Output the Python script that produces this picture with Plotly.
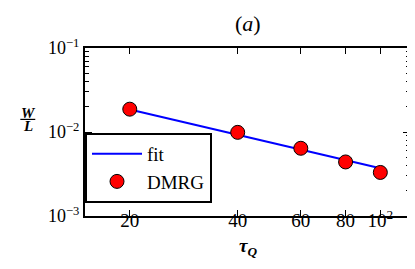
import plotly.graph_objects as go
import numpy as np

tau_q = [20, 40, 60, 80, 100]
w_over_l = [0.0187, 0.0099, 0.0064, 0.0044, 0.0033]
fit_tau = [20, 100]
fit_vals = [0.0185, 0.0037]

x_tickvals = [20, 40, 60, 80, 100]
x_ticktext = ["20", "40", "60", "80", "10<sup>2</sup>"]
y_tickvals = [1e-3, 1e-2, 1e-1]
y_ticktext = ["10<sup>−3</sup>", "10<sup>−2</sup>", "10<sup>−1</sup>"]
y_minor = [m * 10.0 ** e for e in (-3, -2) for m in range(2, 10)]

serif = "Liberation Serif, DejaVu Serif, serif"

fig = go.Figure()
fig.add_trace(go.Scatter(x=fit_tau, y=fit_vals, mode="lines", name="fit",
                         line=dict(color="#0000ff", width=2)))
fig.add_trace(go.Scatter(x=tau_q, y=w_over_l, mode="markers", name="DMRG",
                         marker=dict(color="#ff0000", size=14,
                                     line=dict(color="black", width=1))))
# invisible helpers so the minor-tick axes get drawn
for ax in ("y2", "y3"):
    fig.add_trace(go.Scatter(x=[tau_q[0]], y=[w_over_l[0]], yaxis=ax,
                             mode="markers", marker=dict(opacity=0),
                             showlegend=False, hoverinfo="skip"))

minor_common = dict(type="log", range=[-3, -1], overlaying="y",
                    tickvals=y_minor, ticktext=[""] * len(y_minor),
                    ticks="inside", ticklen=4, tickwidth=1, tickcolor="black",
                    showline=False, showgrid=False, zeroline=False)

fig.update_layout(
    width=415, height=269,
    margin=dict(l=77, r=11, t=40, b=61),
    paper_bgcolor="white", plot_bgcolor="white",
    font=dict(family=serif, size=18, color="black"),
    showlegend=True,
    legend=dict(x=0.0, y=0.495, xanchor="left", yanchor="top",
                bordercolor="black", borderwidth=2, bgcolor="white",
                font=dict(family=serif, size=19), itemwidth=50),
    xaxis=dict(type="log", range=[np.log10(15), np.log10(121)],
               tickvals=x_tickvals, ticktext=x_ticktext,
               ticks="inside", ticklen=6, tickwidth=1, tickcolor="black",
               showline=True, linecolor="black", linewidth=2, mirror="ticks",
               showgrid=False, zeroline=False, ticklabelstandoff=-14,
               tickfont=dict(family=serif, size=19)),
    yaxis=dict(type="log", range=[-3, -1],
               tickvals=y_tickvals, ticktext=y_ticktext,
               ticks="inside", ticklen=7, tickwidth=1, tickcolor="black",
               showline=True, linecolor="black", linewidth=2, mirror="ticks",
               showgrid=False, zeroline=False,
               tickfont=dict(family=serif, size=18)),
    yaxis2=dict(side="left", **minor_common),
    yaxis3=dict(side="right", **minor_common),
)

fig.add_annotation(text="(<i>a</i>)", xref="paper", yref="paper",
                   x=0.5, y=1.0, yshift=10, xanchor="center", yanchor="bottom",
                   showarrow=False, font=dict(family=serif, size=22))
fig.add_annotation(text="<b><i>τ<sub>Q</sub></i></b>", xref="paper", yref="paper",
                   x=0.5, y=0, yshift=-17, xanchor="center", yanchor="top",
                   showarrow=False, font=dict(family=serif, size=19))
fig.add_annotation(text="<b><i>W</i></b>", xref="paper", yref="paper",
                   x=-0.174, y=0.612, xanchor="center", yanchor="middle",
                   showarrow=False, font=dict(family=serif, size=15))
fig.add_annotation(text="<b><i>L</i></b>", xref="paper", yref="paper",
                   x=-0.174, y=0.536, xanchor="center", yanchor="middle",
                   showarrow=False, font=dict(family=serif, size=15))
fig.add_shape(type="line", xref="paper", yref="paper",
              x0=-0.199, x1=-0.153, y0=0.575, y1=0.575,
              line=dict(color="black", width=1.2))

fig.write_html("out.html")
